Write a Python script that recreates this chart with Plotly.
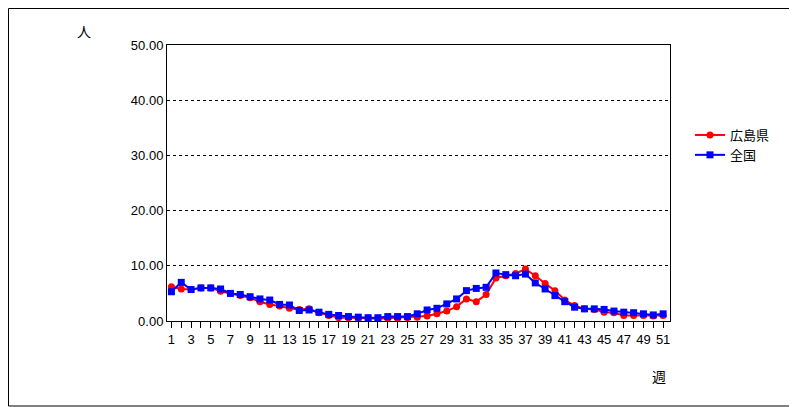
import plotly.graph_objects as go

weeks = list(range(1, 52))
hiroshima = [6.2,5.8,5.7,6.0,6.0,5.4,5.0,4.6,4.2,3.5,3.0,2.7,2.3,2.1,2.2,1.5,1.0,0.6,0.6,0.6,0.5,0.4,0.5,0.5,0.6,0.7,0.9,1.3,1.8,2.6,4.0,3.5,4.8,7.8,8.2,8.6,9.4,8.2,6.8,5.5,3.8,2.8,2.2,2.1,1.6,1.5,1.0,1.0,1.0,0.9,1.0]
national = [5.3,7.0,5.7,6.0,6.0,5.8,5.0,4.8,4.4,4.0,3.8,3.0,2.9,1.9,2.0,1.6,1.2,1.0,0.8,0.7,0.6,0.6,0.8,0.8,0.8,1.3,2.0,2.3,3.1,4.0,5.5,5.9,6.1,8.7,8.4,8.2,8.5,6.9,5.8,4.6,3.5,2.5,2.2,2.2,2.1,1.8,1.6,1.5,1.3,1.1,1.3]
yticks = [0, 10, 20, 30, 40, 50]

W, H = 789, 399
L, R, T, B = 159, 127, 37, 86
font = "Liberation Sans, Noto Sans CJK JP"
fig = go.Figure()
fig.add_trace(go.Scatter(x=weeks, y=hiroshima, name="広島県", mode="lines+markers",
                         line=dict(color="#ff0000", width=2), marker=dict(symbol="circle", size=7, color="#ff0000")))
fig.add_trace(go.Scatter(x=weeks, y=national, name="全国", mode="lines+markers",
                         line=dict(color="#0000ff", width=2), marker=dict(symbol="square", size=7, color="#0000ff")))

pw, ph = W - L - R, H - T - B
def px(x): return (x - 8 - L) / pw
def py(y): return (H - B - (y - 8)) / ph

fig.update_layout(
    width=W, height=H, margin=dict(l=L, r=R, t=T, b=B),
    paper_bgcolor="white", plot_bgcolor="white",
    font=dict(family=font, size=13, color="black"),
    legend=dict(x=px(690), y=py(120), xanchor="left", yanchor="top", tracegroupgap=36,
                font=dict(size=13), bgcolor="rgba(0,0,0,0)"),
    xaxis=dict(range=[0.55, 51.7], tickmode="array", tickvals=weeks[::2], ticktext=[str(w) for w in weeks[::2]],
               showgrid=False, showline=True, linecolor="black", linewidth=1, mirror=True,
               ticks="outside", ticklen=6, tickcolor="black", zeroline=False,
               minor=dict(tickvals=weeks[1::2], ticks="outside", ticklen=6, tickcolor="black", showgrid=False)),
    yaxis=dict(range=[0, 50], tickvals=yticks, ticktext=[f"{v:.2f}" for v in yticks],
               showgrid=True, gridcolor="black", griddash="dot", gridwidth=1,
               showline=True, linecolor="black", linewidth=1, mirror=True, zeroline=False),
    annotations=[
        dict(text="人", x=px(75), y=py(22), xref="paper", yref="paper", showarrow=False, font=dict(size=14)),
        dict(text="週", x=px(668), y=py(387), xref="paper", yref="paper", showarrow=False, font=dict(size=14)),
    ],
    shapes=[dict(type="rect", xref="paper", yref="paper", x0=px(8.5), x1=px(796), y0=py(406), y1=py(8.5),
                 line=dict(color="black", width=1))],
)
fig.write_html("out.html")
